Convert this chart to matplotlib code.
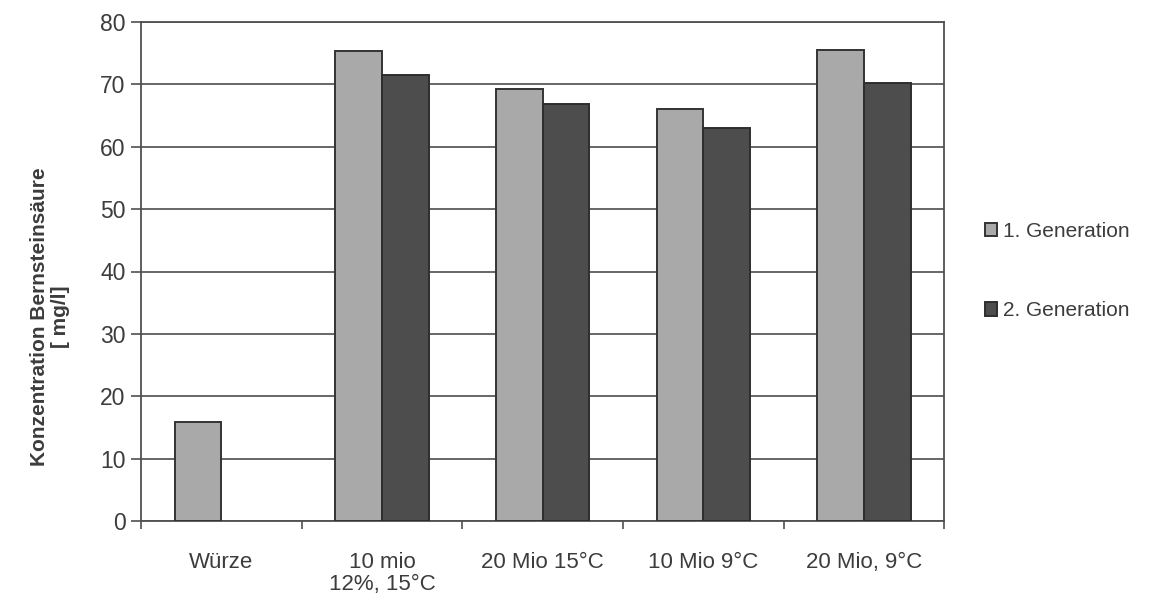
import matplotlib.pyplot as plt
import numpy as np

plt.rcParams["font.family"] = ["Liberation Sans", "DejaVu Sans"]

# data
categories = ["Würze", "10 mio\n12%, 15°C", "20 Mio 15°C", "10 Mio 9°C", "20 Mio, 9°C"]
gen1 = [15.8, 75.4, 69.2, 66.0, 75.5]
gen2 = [np.nan, 71.5, 66.8, 63.0, 70.2]
series_names = ["1. Generation", "2. Generation"]
yticks = [0, 10, 20, 30, 40, 50, 60, 70, 80]

TEXT = "#3c3c3c"
LINE = "#505050"

fig = plt.figure(figsize=(11.71, 6.0), dpi=100)
ax = fig.add_axes([0.1204, 0.1317, 0.686, 0.8316])

x = np.arange(len(categories))
w = 0.29

ax.bar(x - w / 2, gen1, width=w, color="#a9a9a9", edgecolor="#333333",
       linewidth=1.4, label=series_names[0], zorder=3)
ax.bar(x + w / 2, gen2, width=w, color="#4d4d4d", edgecolor="#2e2e2e",
       linewidth=1.4, label=series_names[1], zorder=3)

ax.set_xlim(-0.5, len(categories) - 0.5)
ax.set_ylim(0, 80)
ax.set_yticks(yticks)
ax.yaxis.grid(True, color="#5a5a5a", linewidth=1.3, zorder=1)

# category separators as x ticks
ax.set_xticks(np.arange(-0.5, len(categories), 1.0))
ax.set_xticklabels([])
ax.set_xticks(x, minor=True)
ax.set_xticklabels(categories, minor=True, fontsize=16, color=TEXT,
                   linespacing=1.1, va="top")
ax.tick_params(axis="x", which="minor", length=0, pad=22)
ax.tick_params(axis="x", which="major", length=6, width=1.2, color=LINE,
               direction="out")
ax.tick_params(axis="y", length=7, width=1.2, color=LINE, direction="out",
               labelsize=16.5, labelcolor=TEXT, pad=4)

for side in ["left", "bottom", "right", "top"]:
    ax.spines[side].set_color(LINE)
    ax.spines[side].set_linewidth(1.3)

ax.set_ylabel("Konzentration Bernsteinsäure\n[ mg/l]", fontsize=15,
              fontweight="bold", color=TEXT, linespacing=1.15)
ax.yaxis.set_label_coords(-0.088, 0.41)

leg = fig.legend(loc="center left", bbox_to_anchor=(0.825, 0.548),
                 frameon=False, fontsize=15, labelspacing=2.9,
                 handlelength=0.6, handleheight=0.6, handletextpad=0.25)
for t in leg.get_texts():
    t.set_color(TEXT)

fig.savefig("out.png", dpi=100, facecolor="white")
